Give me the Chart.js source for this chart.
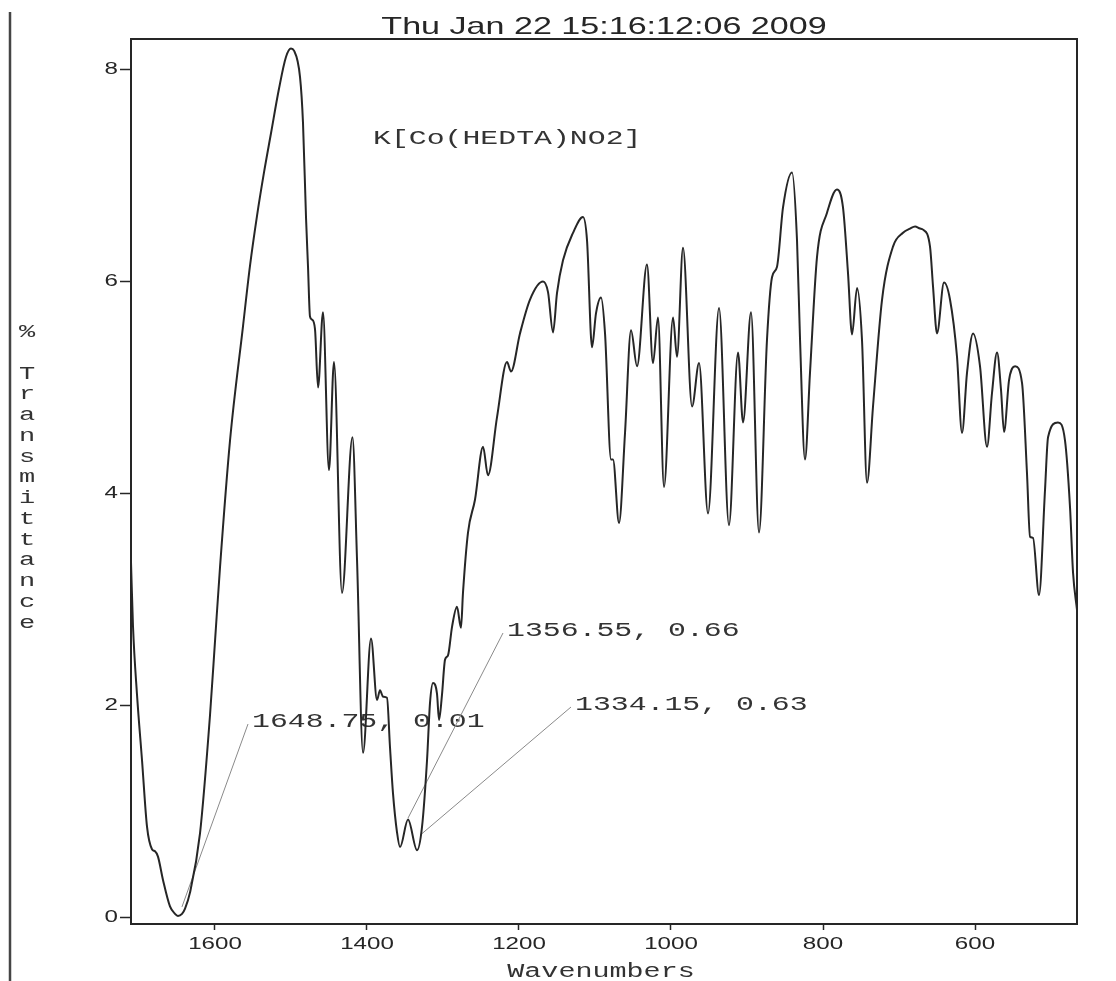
<!DOCTYPE html>
<html>
<head>
<meta charset="utf-8">
<script src="https://cdn.jsdelivr.net/npm/chart.js@4.4.1/dist/chart.umd.min.js"></script>
<style>
  html, body { margin: 0; padding: 0; background: #fff; }
  canvas { display: block; }
</style>
</head>
<body>
<canvas id="spectrum" width="1116" height="981"></canvas>
<script>
// IR spectrum, wavenumber (cm-1) vs % transmittance
const wavenumber = [
  1710.5, 1707.9, 1702.6, 1696.0, 1689.4, 1682.9, 1678.9, 1675.0, 1668.4, 1659.2,
  1652.6, 1648.75, 1643.4, 1639.4, 1632.9, 1619.7, 1606.6, 1600.0, 1593.4, 1580.2,
  1563.1, 1553.9, 1544.7, 1535.5, 1526.3, 1515.8, 1506.6, 1500.0, 1496.0, 1488.1,
  1484.2, 1480.2, 1477.6, 1475.0, 1472.3, 1468.4, 1464.4, 1457.9, 1450.0, 1443.4,
  1432.9, 1419.1, 1413.1, 1405.2, 1394.7, 1386.8, 1382.9, 1378.9, 1373.7, 1369.7,
  1365.8, 1360.5, 1356.55, 1346.0, 1334.15, 1327.6, 1321.0, 1317.1, 1313.1, 1307.9,
  1305.2, 1301.3, 1297.3, 1293.4, 1288.1, 1281.6, 1276.3, 1273.7, 1267.1, 1257.9,
  1247.3, 1240.8, 1228.9, 1215.8, 1210.5, 1198.7, 1185.5, 1168.4, 1161.8, 1155.2,
  1150.0, 1142.1, 1128.9, 1115.8, 1110.5, 1103.9, 1098.7, 1092.1, 1086.8, 1078.9,
  1076.3, 1068.4, 1060.5, 1052.6, 1044.7, 1031.6, 1023.7, 1017.1, 1009.2, 997.3,
  992.1, 984.2, 972.3, 963.1, 951.3, 936.8, 923.7, 911.8, 905.2, 894.7,
  884.2, 873.7, 867.1, 860.5, 852.6, 840.8, 834.2, 830.2, 823.7, 817.1,
  807.9, 794.7, 781.6, 773.7, 767.1, 761.8, 755.2, 748.7, 742.1, 734.2,
  722.3, 707.9, 694.7, 685.5, 678.9, 672.3, 668.4, 659.2, 655.2, 650.0,
  640.8, 632.9, 623.7, 617.1, 610.5, 602.6, 593.4, 584.2, 577.6, 571.0,
  565.8, 561.8, 555.2, 547.3, 538.1, 531.6, 527.6, 523.7, 515.8, 507.9,
  503.9, 490.8, 481.6, 475.0, 471.0, 465.8
];
const transmittance = [
  3.35, 2.75, 2.10, 1.48, 0.85, 0.64, 0.62, 0.57, 0.35, 0.10,
  0.03, 0.01, 0.03, 0.08, 0.23, 0.79, 1.90, 2.60, 3.30, 4.50,
  5.58, 6.15, 6.62, 7.03, 7.40, 7.82, 8.12, 8.20, 8.18, 7.93,
  7.50, 6.60, 6.14, 5.67, 5.64, 5.55, 5.00, 5.71, 4.22, 5.24,
  3.06, 4.53, 3.37, 1.55, 2.63, 2.05, 2.14, 2.08, 2.07, 1.60,
  1.17, 0.80, 0.66, 0.92, 0.63, 0.85, 1.48, 2.02, 2.21, 2.11,
  1.86, 2.10, 2.43, 2.47, 2.74, 2.93, 2.73, 3.06, 3.63, 3.94,
  4.44, 4.17, 4.72, 5.24, 5.15, 5.51, 5.83, 6.00, 5.90, 5.52,
  5.89, 6.20, 6.46, 6.61, 6.39, 5.38, 5.70, 5.85, 5.51, 4.32,
  4.32, 3.72, 4.57, 5.54, 5.20, 6.16, 5.23, 5.66, 4.06, 5.66,
  5.29, 6.32, 4.82, 5.23, 3.81, 5.75, 3.70, 5.33, 4.67, 5.71,
  3.63, 5.45, 6.04, 6.14, 6.70, 7.03, 6.39, 5.45, 4.32, 5.14,
  6.23, 6.65, 6.87, 6.70, 6.08, 5.50, 5.94, 5.45, 4.10, 4.82,
  5.83, 6.33, 6.46, 6.50, 6.52, 6.50, 6.49, 6.33, 5.95, 5.51,
  5.99, 5.83, 5.29, 4.57, 5.14, 5.51, 5.20, 4.44, 4.95, 5.33,
  4.98, 4.58, 5.07, 5.20, 5.04, 4.19, 3.59, 3.58, 3.04, 4.03,
  4.53, 4.67, 4.50, 3.87, 3.25, 2.90
];

const xTickValues = [1600, 1400, 1200, 1000, 800, 600];
const yTickValues = [0, 2, 4, 6, 8];

// picked peaks
const peakWavenumber = [1648.75, 1356.55, 1334.15];
const peakTransmittance = [0.01, 0.66, 0.63];

const titleText = 'Thu Jan 22 15:16:12:06 2009';
const sampleText = 'K[Co(HEDTA)NO2]';
const xTitle = 'Wavenumbers';
const yTitle = '% Transmittance';

const INK = '#262626';
const SX = 1.42; // printout text is wide

// label box (left, middle) and where the leader line meets the curve
const calloutLayout = [
  { left: 252, mid: 721, tip: [4, -9] },
  { left: 507, mid: 630, tip: [8, -29] },
  { left: 575, mid: 704, tip: [3, -15] }
];

function wideText(ctx, text, x, y, align, baseline) {
  ctx.save();
  ctx.translate(x, y);
  ctx.scale(SX, 1);
  ctx.textAlign = align;
  ctx.textBaseline = baseline;
  ctx.fillText(text, 0, 0);
  ctx.restore();
}

const calloutPlugin = {
  id: 'callouts',
  beforeDatasetsDraw(chart) {
    const { ctx, scales: { x, y } } = chart;
    ctx.save();
    ctx.font = '21px "Liberation Mono", "Courier New", monospace';
    ctx.fillStyle = '#333';
    ctx.strokeStyle = '#8a8a8a';
    ctx.lineWidth = 1;
    peakWavenumber.forEach((wn, i) => {
      const c = calloutLayout[i];
      const px = x.getPixelForValue(wn) + c.tip[0];
      const py = y.getPixelForValue(peakTransmittance[i]) + c.tip[1];
      ctx.beginPath();
      ctx.moveTo(c.left - 4, c.mid + 3);
      ctx.lineTo(px, py);
      ctx.stroke();
      wideText(ctx, wn.toFixed(2) + ', ' + peakTransmittance[i].toFixed(2), c.left, c.mid, 'left', 'middle');
    });
    ctx.restore();
  }
};

const framePlugin = {
  id: 'frame',
  afterDraw(chart) {
    const { ctx, chartArea: a, scales: { x, y } } = chart;
    ctx.save();

    // top and right sides of the plot box
    ctx.strokeStyle = INK;
    ctx.lineWidth = 2;
    ctx.beginPath();
    ctx.moveTo(a.left, a.top);
    ctx.lineTo(a.right, a.top);
    ctx.lineTo(a.right, a.bottom);
    ctx.stroke();

    // edge of the sheet on the left
    ctx.strokeStyle = '#454545';
    ctx.lineWidth = 2.5;
    ctx.beginPath();
    ctx.moveTo(10, 12);
    ctx.lineTo(10, 981);
    ctx.stroke();

    ctx.fillStyle = INK;

    // tick labels
    ctx.font = '17px "Liberation Sans", Arial, sans-serif';
    x.ticks.forEach(t => {
      wideText(ctx, String(t.value), x.getPixelForValue(t.value), a.bottom + 12, 'center', 'top');
    });
    y.ticks.forEach(t => {
      wideText(ctx, String(t.value), a.left - 13, y.getPixelForValue(t.value), 'right', 'middle');
    });

    // date stamp
    ctx.font = '24px "Liberation Sans", Arial, sans-serif';
    wideText(ctx, titleText, (a.left + a.right) / 2, 34, 'center', 'alphabetic');

    // sample name
    ctx.fillStyle = '#333';
    ctx.font = '21px "Liberation Mono", "Courier New", monospace';
    wideText(ctx, sampleText, 373, 138, 'left', 'middle');

    // axis titles
    ctx.font = '20px "Liberation Mono", "Courier New", monospace';
    wideText(ctx, xTitle, 601, 972, 'center', 'middle');
    ctx.font = '19px "Liberation Mono", "Courier New", monospace';
    yTitle.split('').forEach((ch, i) => {
      if (ch !== ' ') wideText(ctx, ch, 27, 332 + i * 20.75, 'center', 'middle');
    });

    ctx.restore();
  }
};

const ctx = document.getElementById('spectrum').getContext('2d');

new Chart(ctx, {
  type: 'line',
  data: {
    datasets: [{
      data: wavenumber.map((wn, i) => ({ x: wn, y: transmittance[i] })),
      borderColor: INK,
      borderWidth: 2,
      pointRadius: 0,
      fill: false,
      cubicInterpolationMode: 'monotone'
    }]
  },
  options: {
    responsive: false,
    animation: false,
    devicePixelRatio: 1,
    layout: { padding: { top: 39, right: 39, left: 0, bottom: 0 } },
    plugins: {
      legend: { display: false },
      title: { display: false },
      tooltip: { enabled: false }
    },
    scales: {
      x: {
        type: 'linear',
        reverse: true,
        min: 465.8,
        max: 1710.5,
        afterBuildTicks: s => { s.ticks = xTickValues.map(v => ({ value: v })); },
        afterFit: s => { s.height = 57; },
        ticks: { display: false },
        grid: { display: true, drawOnChartArea: false, drawTicks: true, tickLength: 6, tickColor: INK, tickWidth: 1.5 },
        border: { display: true, color: INK, width: 2 }
      },
      y: {
        min: -0.066,
        max: 8.29,
        afterBuildTicks: s => { s.ticks = yTickValues.map(v => ({ value: v })); },
        afterFit: s => { s.width = 131; },
        ticks: { display: false },
        grid: { display: true, drawOnChartArea: false, drawTicks: true, tickLength: 11, tickColor: INK, tickWidth: 1.5 },
        border: { display: true, color: INK, width: 2 }
      }
    }
  },
  plugins: [calloutPlugin, framePlugin]
});
</script>
</body>
</html>
